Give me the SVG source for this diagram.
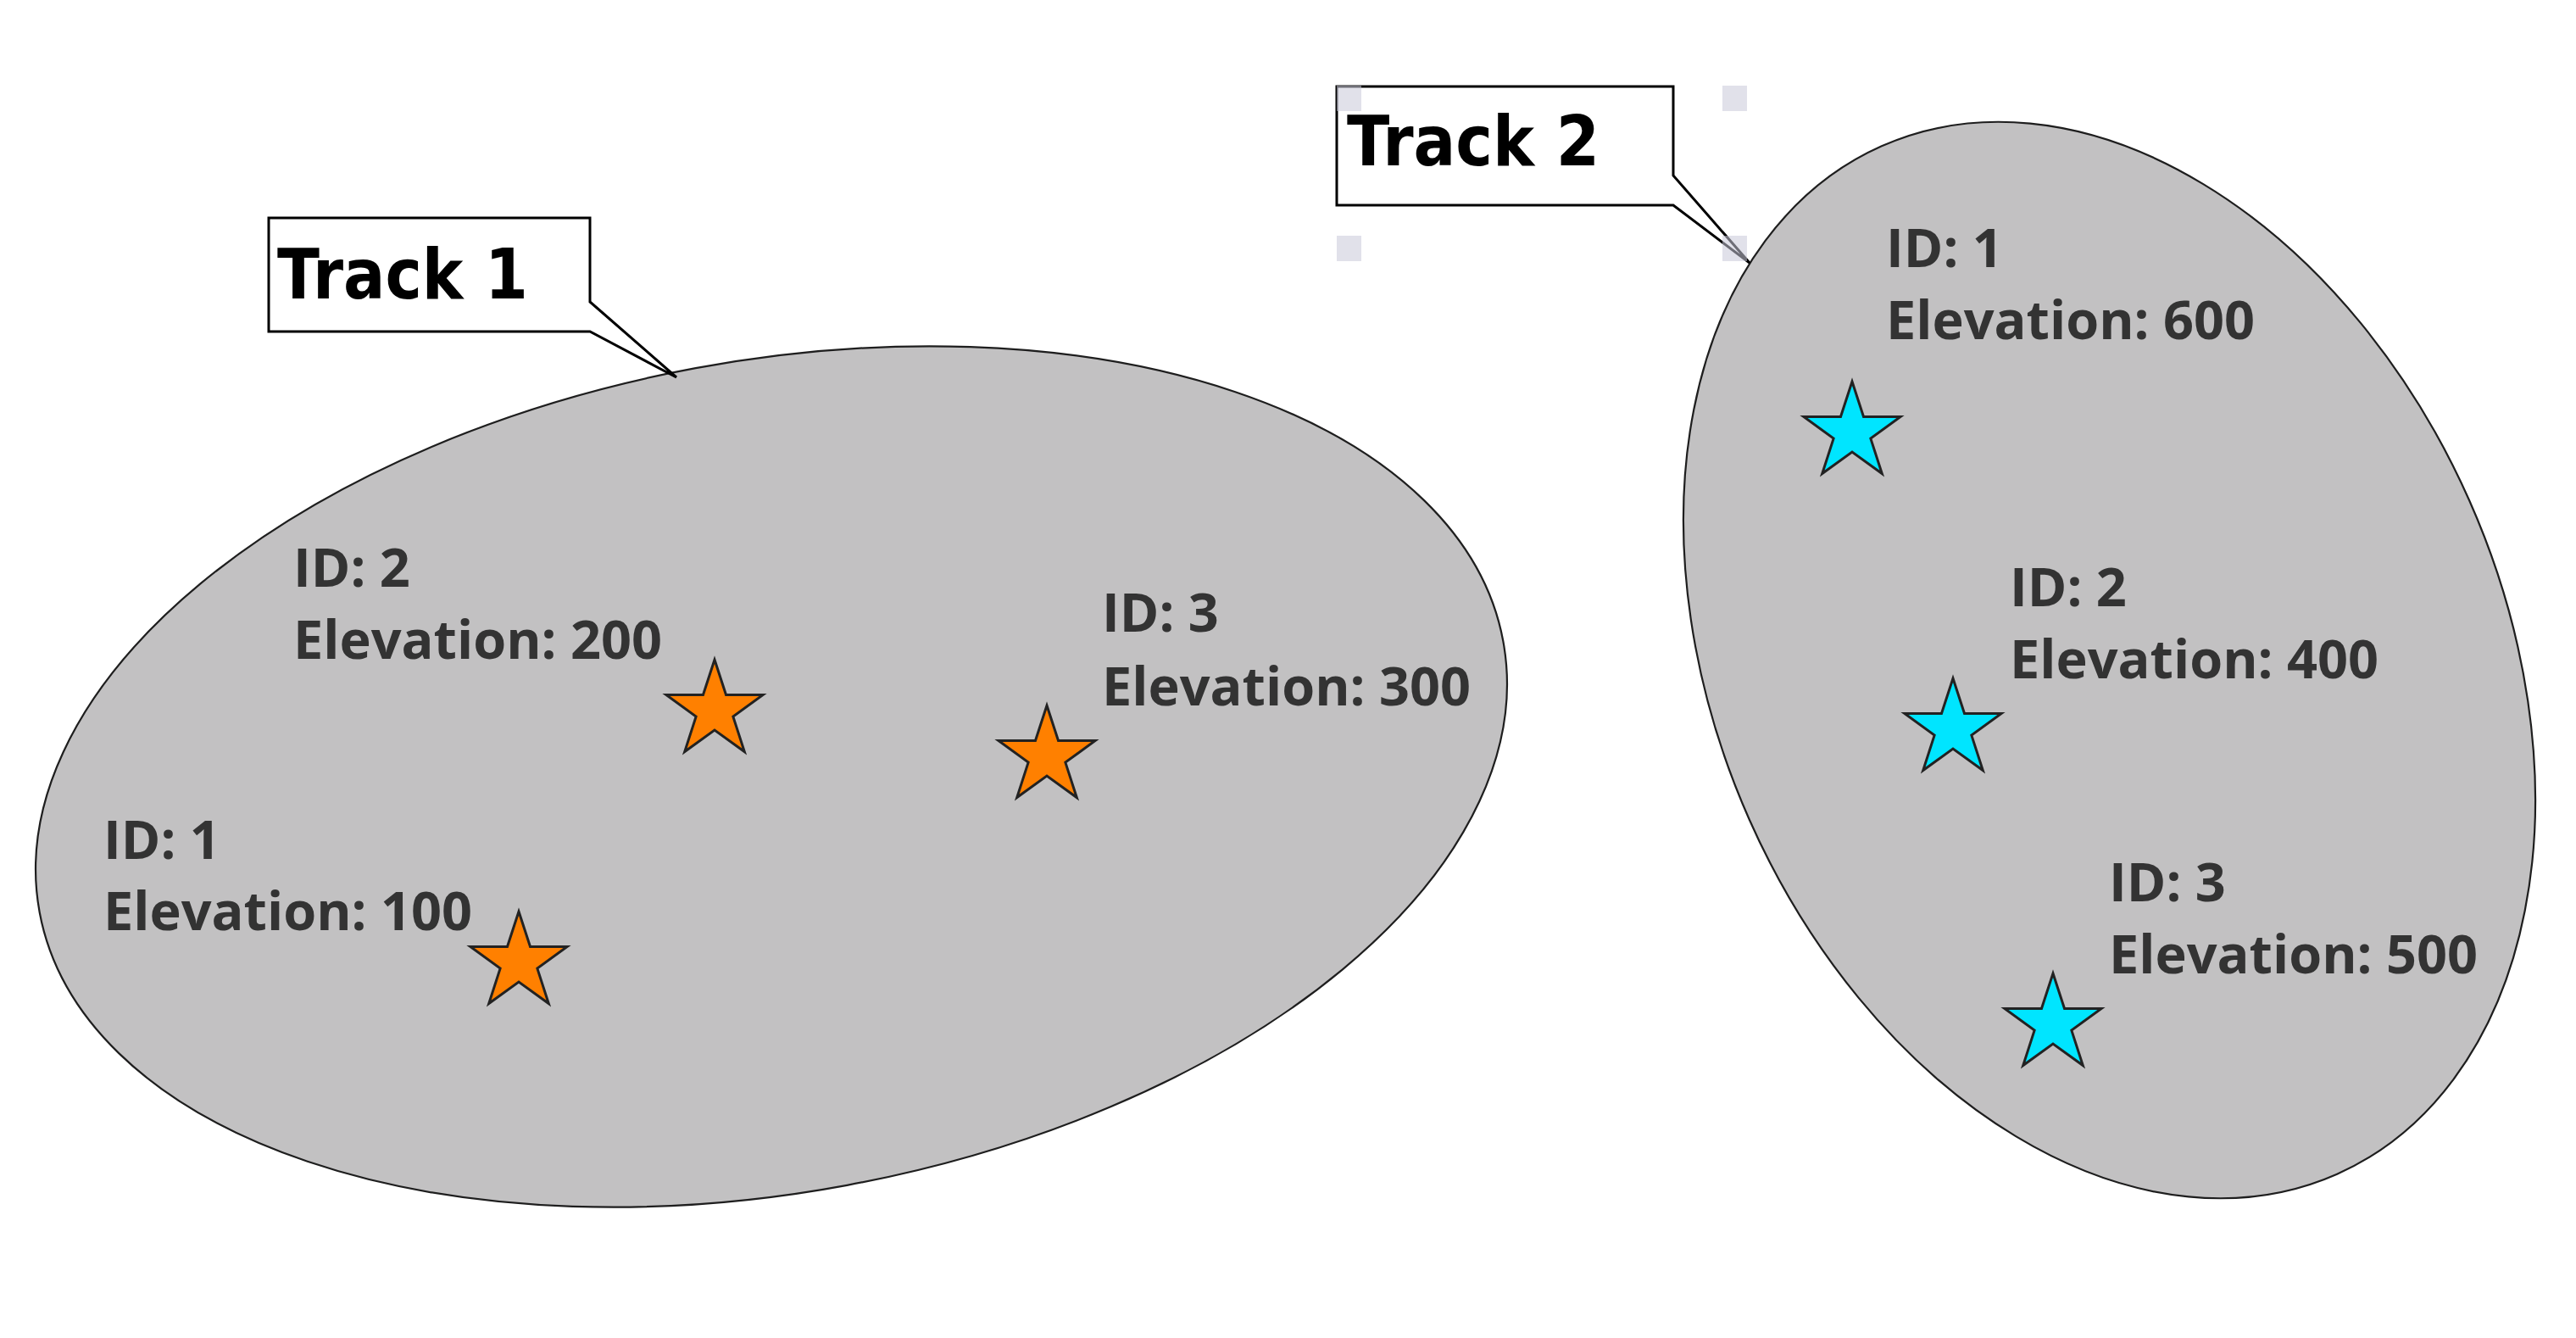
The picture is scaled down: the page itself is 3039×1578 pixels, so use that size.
<svg xmlns="http://www.w3.org/2000/svg" width="3039" height="1578" viewBox="0 0 3039 1578">
<defs>
<style>
.area{fill:#c2c1c2;stroke:#1e1e1e;stroke-width:2.2}
.callout{fill:#ffffff;stroke:#000000;stroke-width:3;stroke-linejoin:miter}
.title{font-family:"DejaVu Sans","Liberation Sans",sans-serif;font-weight:bold;font-size:82px;fill:#000000}
.lbl{font-family:"Open Sans","Noto Sans","Liberation Sans",sans-serif;font-weight:bold;font-size:63px;fill:#333333}
.star{stroke:#222222;stroke-width:3;stroke-linejoin:miter}
.orange{fill:#ff8000}
.cyan{fill:#00e5ff}
.handle{fill:#c8c8d8;opacity:0.55}
</style>
<path id="starShape" d="M0,-60 L13.52,-18.61 L57.06,-18.54 L21.87,7.11 L35.27,48.54 L0,23 L-35.27,48.54 L-21.87,7.11 L-57.06,-18.54 L-13.52,-18.61 Z"/>
</defs>
<rect x="0" y="0" width="3039" height="1578" fill="#ffffff"/>

<g id="track1-area">
<ellipse class="area" cx="910" cy="916" rx="878" ry="490" transform="rotate(-10.5 910 916)"/>
</g>
<g id="track2-area">
<ellipse class="area" cx="2488.5" cy="778.5" rx="464.5" ry="663" transform="rotate(-23.9 2488.5 778.5)"/>
</g>

<g id="connectors"></g>

<g id="track1-callout">
<path class="callout" d="M317,257 H696 V356 L798,445 L696,391 H317 Z"/>
<text class="title" x="327" y="352" textLength="296" lengthAdjust="spacingAndGlyphs">Track 1</text>
</g>
<g id="track2-callout">
<path class="callout" d="M1577,102 H1974 V207 L2064,310 L1974,242 H1577 Z"/>
<text class="title" x="1589" y="195" textLength="298" lengthAdjust="spacingAndGlyphs">Track 2</text>
</g>

<g id="t1-point1">
<text class="lbl" x="122" y="1013">ID: 1</text>
<text class="lbl" x="122" y="1097">Elevation: 100</text>
<use href="#starShape" class="star orange" transform="translate(612 1135)"/>
</g>
<g id="t1-point2">
<text class="lbl" x="346" y="692">ID: 2</text>
<text class="lbl" x="346" y="777">Elevation: 200</text>
<use href="#starShape" class="star orange" transform="translate(843 838)"/>
</g>
<g id="t1-point3">
<text class="lbl" x="1300" y="745">ID: 3</text>
<text class="lbl" x="1300" y="832">Elevation: 300</text>
<use href="#starShape" class="star orange" transform="translate(1235 892)"/>
</g>

<g id="t2-point1">
<text class="lbl" x="2225" y="315">ID: 1</text>
<text class="lbl" x="2225" y="400">Elevation: 600</text>
<use href="#starShape" class="star cyan" transform="translate(2185 510)"/>
</g>
<g id="t2-point2">
<text class="lbl" x="2371" y="715">ID: 2</text>
<text class="lbl" x="2371" y="800">Elevation: 400</text>
<use href="#starShape" class="star cyan" transform="translate(2304 860)"/>
</g>
<g id="t2-point3">
<text class="lbl" x="2488" y="1063">ID: 3</text>
<text class="lbl" x="2488" y="1148">Elevation: 500</text>
<use href="#starShape" class="star cyan" transform="translate(2422 1208)"/>
</g>

<g id="selection-handles">
<rect class="handle" x="1577" y="101" width="29" height="30"/>
<rect class="handle" x="2032" y="101" width="29" height="30"/>
<rect class="handle" x="1577" y="278" width="29" height="30"/>
<rect class="handle" x="2032" y="278" width="29" height="30"/>
</g>
</svg>
